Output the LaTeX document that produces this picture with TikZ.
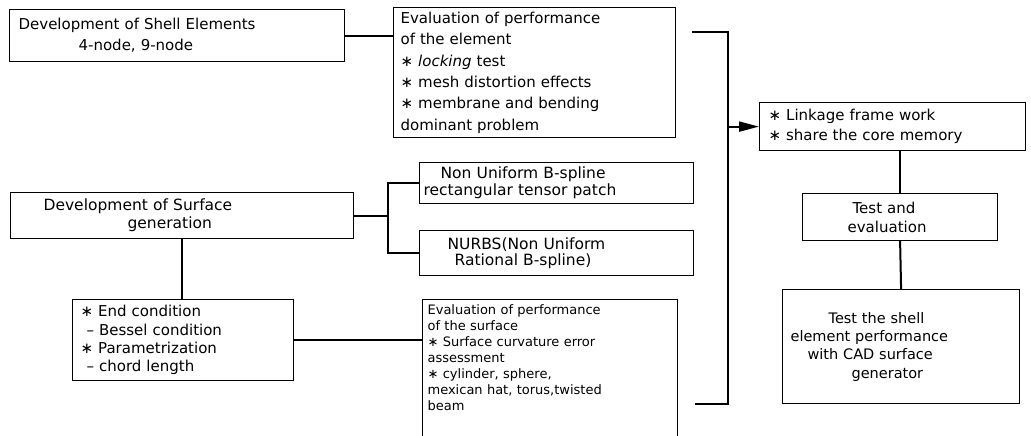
\documentclass[tikz,border=0pt]{standalone}
\usepackage{fontspec}
\setmainfont{DejaVu Sans}
\usetikzlibrary{arrows.meta}
\newcommand\st{∗}
\begin{document}
\begin{tikzpicture}[x=1pt,y=-1pt,
  box/.style={draw, line width=1.2pt, anchor=north west, align=left, inner ysep=0pt},
  conn/.style={line width=2pt},
]
\useasboundingbox (0,0) rectangle (1031,436);
\fill[white] (0,0) rectangle (1031,436);

\node[box, minimum width=335pt, minimum height=52pt, inner xsep=9pt, text width=317pt,
  font=\fontsize{15}{21}\selectfont] (shell) at (9,9)
  {Development of Shell Elements\\\hspace*{60pt}4-node, 9-node};

\node[box, minimum width=282pt, minimum height=130pt, inner xsep=7pt, text width=268pt,
  font=\fontsize{15}{21.4}\selectfont] (evalel) at (393,7)
  {Evaluation of performance\\of the element\\\st{} \textit{locking} test\\\st{} mesh distortion effects\\\st{} membrane and bending\\dominant problem};

\node[box, minimum width=266pt, minimum height=48pt, inner xsep=9pt, text width=248pt,
  font=\fontsize{15}{20}\selectfont] (link) at (759,102)
  {\st{} Linkage frame work\\\st{} share the core memory};

\node[box, minimum width=195pt, minimum height=47pt, inner xsep=45pt, text width=105pt,
  font=\fontsize{15}{19}\selectfont] (test) at (802,193)
  {\hspace*{5pt}Test and\\evaluation};

\node[box, minimum width=237pt, minimum height=114pt, inner xsep=8pt, text width=221pt,
  font=\fontsize{14.5}{18.3}\selectfont] (final) at (782,289)
  {\hspace*{38pt}Test the shell\\element performance\\\hspace*{17pt}with CAD surface\\\hspace*{61pt}generator};

\node[box, minimum width=343pt, minimum height=46pt, inner xsep=33pt, text width=277pt,
  font=\fontsize{15.5}{18}\selectfont] (surf) at (10,192)
  {Development of Surface\\\hspace*{84pt}generation};

\node[box, minimum width=274pt, minimum height=41pt, inner xsep=4pt, text width=266pt,
  font=\fontsize{15.5}{17}\selectfont] (bspl) at (419,162)
  {\hspace*{17pt}Non Uniform B-spline\\rectangular tensor patch};

\node[box, minimum width=274pt, minimum height=45pt, inner xsep=28pt, text width=218pt,
  font=\fontsize{15.5}{16.5}\selectfont] (nurbs) at (419,230)
  {NURBS(Non Uniform\\\hspace*{7pt}Rational B-spline)};

\node[box, minimum width=221pt, minimum height=81pt, inner xsep=8pt, text width=205pt,
  font=\fontsize{15}{18.3}\selectfont] (endc) at (72,299)
  {\st{} End condition\\\hspace*{6pt}– Bessel condition\\\st{} Parametrization\\\hspace*{6pt}– chord length};

\node[box, minimum width=255pt, inner xsep=5pt, inner ysep=5pt, text width=245pt, text depth=150pt,
  font=\fontsize{13}{16}\selectfont] (evalsf) at (422,299)
  {Evaluation of performance\\of the surface\\\st{} Surface curvature error\\assessment\\\st{} cylinder, sphere,\\mexican hat, torus,twisted\\beam};

% connectors
\coordinate (br) at ([xshift=34pt]surf.east);
\coordinate (bt) at (692,32);
\coordinate (bb) at (695,404);
\coordinate (sp) at (728,0);

\draw[conn] (shell.east) -- (shell.east -| evalel.west);
\draw[conn] (surf.east) -- (br);
\draw[conn] (bspl.west) -| (br) |- (nurbs.west);
\draw[conn] (surf.south) -- (surf.south |- endc.north);
\draw[conn] (endc.east) -- (endc.east -| evalsf.west);
\draw[conn] (bt) -- (bt -| sp) -- (bb -| sp) -- (bb);
\draw[conn,-{Triangle[length=20pt,width=10pt]}] (sp |- link.west) -- (link.west);
\draw[conn] (test.north |- link.south) -- (test.north);
\draw[conn] (test.south) -- (final.north);
\end{tikzpicture}
\end{document}
